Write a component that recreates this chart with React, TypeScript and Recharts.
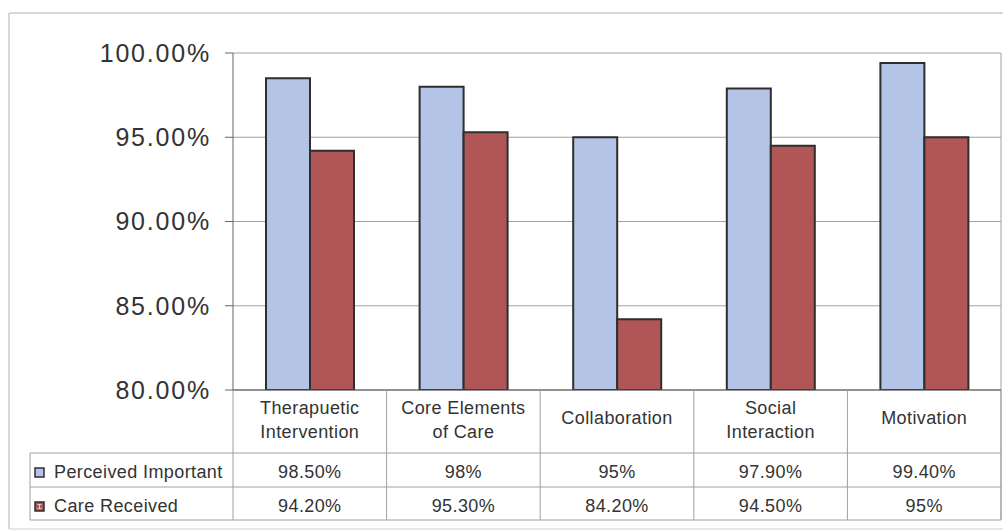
import { Bar, BarChart, CartesianGrid, XAxis, YAxis } from "recharts";

// Service elements: share rating each one as important vs share receiving it
const categories = [
  "Therapuetic Intervention",
  "Core Elements of Care",
  "Collaboration",
  "Social Interaction",
  "Motivation",
];
const categoryLines = [
  ["Therapuetic", "Intervention"],
  ["Core Elements", "of Care"],
  ["Collaboration"],
  ["Social", "Interaction"],
  ["Motivation"],
];
const perceivedImportant = [98.5, 98, 95, 97.9, 99.4];
const careReceived = [94.2, 95.3, 84.2, 94.5, 95];
const seriesNames = ["Perceived Important", "Care Received"];
const yTicks = [80, 85, 90, 95, 100];

const W = 1003;
const H = 531;
const PLOT_LEFT = 233;
const PLOT_RIGHT = 1001;
const PLOT_TOP = 53;
const PLOT_BOTTOM = 390;
const BAND = (PLOT_RIGHT - PLOT_LEFT) / categories.length;
const TABLE_LEFT = 30;
const ROW1_TOP = 453;
const ROW2_TOP = 487;
const TABLE_BOTTOM = 520;

const BLUE = "#b4c4e6";
const RED = "#b05656";
const EDGE = "#2e2e2e";
const TEXT = "#333";
const GRID = "#a0a0a0";
const FONT = '"Liberation Sans", Arial, sans-serif';

const data = categories.map((name, i) => ({
  name,
  perceived: perceivedImportant[i],
  received: careReceived[i],
}));

const pct = (v: number) => (Number.isInteger(v) ? `${v}%` : `${v.toFixed(2)}%`);

const cellText = {
  fill: TEXT,
  fontSize: 18,
  fontFamily: FONT,
  letterSpacing: 0.4,
  textAnchor: "middle" as const,
};

// one data-table column per category: header, both values, right divider
function TableColumn(props: any) {
  const { x, y, index } = props;
  const lines = categoryLines[index];
  const headerY = lines.length === 1 ? [418] : [408, 432];
  return (
    <g>
      {lines.map((t, k) => (
        <text key={k} x={x} y={headerY[k]} dy="0.35em" {...cellText}>
          {t}
        </text>
      ))}
      <text x={x} y={472} dy="0.35em" {...cellText}>
        {pct(perceivedImportant[index])}
      </text>
      <text x={x} y={506} dy="0.35em" {...cellText}>
        {pct(careReceived[index])}
      </text>
      <line x1={x + BAND / 2} x2={x + BAND / 2} y1={y} y2={TABLE_BOTTOM} stroke={GRID} />
    </g>
  );
}

export default function App() {
  return (
    <div style={{ position: "absolute", left: 0, top: 0, background: "#fff" }}>
      <BarChart
        width={W}
        height={H}
        data={data}
        margin={{ top: PLOT_TOP, right: W - PLOT_RIGHT, bottom: 0, left: 0 }}
        barSize={44}
        barGap={0}
      >
        {/* outer chart frame */}
        <line x1={9} x2={W} y1={13} y2={13} stroke="#b0b0b0" />
        <line x1={9} x2={9} y1={13} y2={529} stroke="#b0b0b0" />
        <line x1={9} x2={W} y1={529} y2={529} stroke="#d0d0d0" />

        <CartesianGrid vertical={false} stroke={GRID} />
        <XAxis
          dataKey="name"
          height={H - PLOT_BOTTOM}
          tickSize={0}
          tickMargin={0}
          tickLine={false}
          axisLine={{ stroke: "#555" }}
          tick={<TableColumn />}
          interval={0}
        />
        <YAxis
          width={PLOT_LEFT}
          domain={[80, 100]}
          ticks={yTicks}
          allowDataOverflow
          tickFormatter={(v: number) => `${v.toFixed(2)}%`}
          tickSize={8}
          tickMargin={14}
          axisLine={{ stroke: "#666" }}
          tickLine={{ stroke: "#666" }}
          tick={{ fill: TEXT, fontSize: 25, fontFamily: FONT, letterSpacing: 1.8 }}
        />
        <Bar
          dataKey="perceived"
          name={seriesNames[0]}
          fill={BLUE}
          stroke={EDGE}
          strokeWidth={2}
          isAnimationActive={false}
        />
        <Bar
          dataKey="received"
          name={seriesNames[1]}
          fill={RED}
          stroke={EDGE}
          strokeWidth={2}
          isAnimationActive={false}
        />

        {/* plot right border and data-table grid */}
        <line x1={PLOT_RIGHT} x2={PLOT_RIGHT} y1={PLOT_TOP} y2={TABLE_BOTTOM} stroke={GRID} />
        <line x1={PLOT_LEFT} x2={PLOT_LEFT} y1={PLOT_BOTTOM} y2={TABLE_BOTTOM} stroke={GRID} />
        <line x1={TABLE_LEFT} x2={TABLE_LEFT} y1={ROW1_TOP} y2={TABLE_BOTTOM} stroke={GRID} />
        <line x1={TABLE_LEFT} x2={PLOT_RIGHT} y1={ROW1_TOP} y2={ROW1_TOP} stroke={GRID} />
        <line x1={TABLE_LEFT} x2={PLOT_RIGHT} y1={ROW2_TOP} y2={ROW2_TOP} stroke={GRID} />
        <line x1={TABLE_LEFT} x2={PLOT_RIGHT} y1={TABLE_BOTTOM} y2={TABLE_BOTTOM} stroke={GRID} />

        {/* legend keys and series names in the table's first column */}
        <rect x={35} y={468} width={9} height={9} fill={BLUE} stroke={EDGE} strokeWidth={1.5} />
        <text x={54} y={472} dy="0.35em" fill={TEXT} fontSize={18} fontFamily={FONT} letterSpacing={0.4}>
          {seriesNames[0]}
        </text>
        <rect x={35} y={502} width={9} height={9} fill={RED} stroke={EDGE} strokeWidth={1.5} />
        <path d="M37.5 504.5 h4 M39.5 504.5 v4 M37.5 508.5 h4" stroke="#e8c8c8" strokeWidth={1} />
        <text x={54} y={506} dy="0.35em" fill={TEXT} fontSize={18} fontFamily={FONT} letterSpacing={0.4}>
          {seriesNames[1]}
        </text>
      </BarChart>
    </div>
  );
}
